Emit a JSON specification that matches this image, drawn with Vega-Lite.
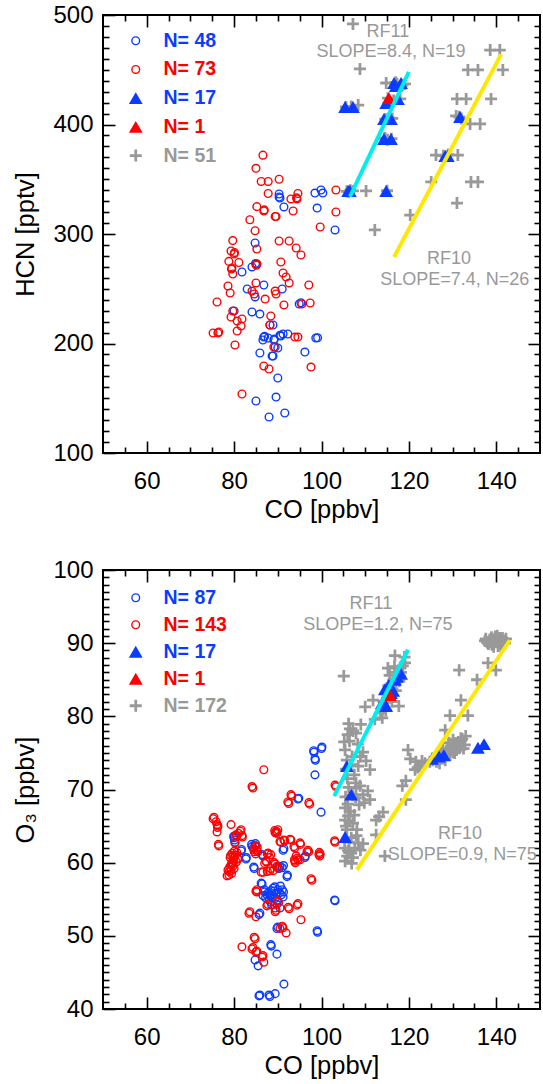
{
"$schema": "https://vega.github.io/schema/vega-lite/v6.json",
"background": "white",
"padding": {"left": 12, "top": 2, "right": 0, "bottom": 0},
"config": {
  "font": "Liberation Sans",
  "view": {"stroke": "black", "strokeWidth": 2},
  "concat": {"spacing": 33},
  "point": {"opacity": 1, "size": 190, "strokeWidth": 1.4},
  "axis": {"grid": false, "domain": false, "tickColor": "#000", "tickWidth": 1.6, "labelFont": "Liberation Sans", "labelFontSize": 24, "labelColor": "#000", "titleFont": "Liberation Sans", "titleFontSize": 25.5, "titleFontWeight": "normal", "titleColor": "#000", "labelFlush": false, "labelOverlap": false},
  "legend": {"orient": "none", "padding": 0, "symbolSize": 190, "symbolStrokeWidth": 1.4, "labelFont": "Liberation Sans", "labelFontSize": 19.5, "labelFontWeight": "bold", "labelOffset": 18}
},
"resolve": {"scale": {"fill": "independent", "stroke": "independent", "shape": "independent"}},
"datasets": {
  "hcn_gp": [{"co":107.2,"hcn":491.8},{"co":108.8,"hcn":450.7},{"co":114.8,"hcn":437.9},{"co":119.1,"hcn":437},{"co":108.4,"hcn":417.8},{"co":118,"hcn":423.3},{"co":114.5,"hcn":387.7},{"co":107.2,"hcn":339.3},{"co":110.2,"hcn":339.3},{"co":138.6,"hcn":468},{"co":140.8,"hcn":468},{"co":133.5,"hcn":449.8},{"co":135.8,"hcn":449.8},{"co":141.5,"hcn":449.8},{"co":131,"hcn":423.3},{"co":133.1,"hcn":423.3},{"co":138.8,"hcn":423.3},{"co":130.8,"hcn":407.8},{"co":134,"hcn":400.5},{"co":136.3,"hcn":400.5},{"co":126.2,"hcn":372.1},{"co":131.2,"hcn":372.1},{"co":125.1,"hcn":347.5},{"co":134.2,"hcn":347.5},{"co":135.8,"hcn":347.5},{"co":131,"hcn":328.3},{"co":120.3,"hcn":317.3},{"co":112.2,"hcn":303.7},{"co":105.6,"hcn":416},{"co":106.8,"hcn":416.5},{"co":115.2,"hcn":424},{"co":116,"hcn":419},{"co":114.6,"hcn":405},{"co":116.2,"hcn":405.5},{"co":114.5,"hcn":387},{"co":116,"hcn":387},{"co":117,"hcn":438.5},{"co":118.5,"hcn":436},{"co":105.8,"hcn":339},{"co":106.6,"hcn":340},{"co":115,"hcn":339.5},{"co":128.5,"hcn":371},{"co":129,"hcn":372.5},{"co":131.5,"hcn":407},{"co":132,"hcn":405.5},{"co":116.5,"hcn":422},{"co":115.5,"hcn":406},{"co":117.3,"hcn":437},{"co":106.2,"hcn":338.5},{"co":127.9,"hcn":371.5},{"co":115.1,"hcn":386}],
  "hcn_bc": [{"co":90.3,"hcn":336.5},{"co":90.5,"hcn":332.9},{"co":90.3,"hcn":333.8},{"co":91.4,"hcn":324.7},{"co":98.5,"hcn":337.4},{"co":99.9,"hcn":340.2},{"co":100.3,"hcn":337.4},{"co":99,"hcn":323.7},{"co":103.1,"hcn":303.7},{"co":84.8,"hcn":291.8},{"co":85.2,"hcn":272.6},{"co":84.1,"hcn":269.9},{"co":81.8,"hcn":265.3},{"co":86.8,"hcn":253.4},{"co":83,"hcn":249.8},{"co":84.8,"hcn":242.5},{"co":80,"hcn":229.7},{"co":84.1,"hcn":228.8},{"co":85.9,"hcn":226.9},{"co":91,"hcn":249.8},{"co":94.9,"hcn":236.1},{"co":88.2,"hcn":216.9},{"co":88.9,"hcn":216.9},{"co":86.8,"hcn":205.9},{"co":86.6,"hcn":203.2},{"co":87.8,"hcn":205},{"co":89.1,"hcn":203.2},{"co":90.7,"hcn":206.8},{"co":91.2,"hcn":208.7},{"co":92.3,"hcn":208.7},{"co":89.4,"hcn":196.8},{"co":90,"hcn":195.9},{"co":85.9,"hcn":191.3},{"co":88.7,"hcn":188.6},{"co":88.9,"hcn":188.6},{"co":96.2,"hcn":192.2},{"co":98.7,"hcn":205},{"co":90,"hcn":168.5},{"co":85,"hcn":147.5},{"co":89.6,"hcn":151.1},{"co":91.6,"hcn":136.5},{"co":88,"hcn":132.9},{"co":95.3,"hcn":237.2},{"co":87,"hcn":206.5},{"co":90.5,"hcn":207.5},{"co":89.2,"hcn":204},{"co":84.9,"hcn":273},{"co":99.1,"hcn":205.2}],
  "hcn_rc": [{"co":86.6,"hcn":372},{"co":85,"hcn":360},{"co":86.2,"hcn":348},{"co":87.8,"hcn":348},{"co":90.3,"hcn":350},{"co":87.8,"hcn":337},{"co":93,"hcn":332},{"co":94.4,"hcn":332},{"co":94.6,"hcn":337},{"co":85.2,"hcn":325},{"co":86.8,"hcn":321},{"co":89.4,"hcn":316},{"co":89.6,"hcn":316},{"co":93.5,"hcn":321},{"co":83.6,"hcn":313},{"co":84.8,"hcn":303},{"co":79.7,"hcn":294},{"co":79.3,"hcn":284.5},{"co":80,"hcn":281.7},{"co":78.8,"hcn":275},{"co":81.1,"hcn":274},{"co":79.5,"hcn":269},{"co":79.7,"hcn":263.5},{"co":85.2,"hcn":272.6},{"co":90.3,"hcn":293.6},{"co":92.6,"hcn":293.6},{"co":94.2,"hcn":287.2},{"co":95.3,"hcn":280.8},{"co":85.2,"hcn":286.3},{"co":90.7,"hcn":274.4},{"co":91.2,"hcn":264.4},{"co":91.9,"hcn":260.7},{"co":92.6,"hcn":255.3},{"co":85,"hcn":255.3},{"co":78.6,"hcn":252.5},{"co":79.1,"hcn":246.1},{"co":84.1,"hcn":247.9},{"co":84.6,"hcn":245.2},{"co":76.1,"hcn":237.9},{"co":87.1,"hcn":240.6},{"co":89.4,"hcn":247.9},{"co":89.6,"hcn":245.2},{"co":91.4,"hcn":235.2},{"co":95.5,"hcn":236.1},{"co":97.1,"hcn":253.4},{"co":97.4,"hcn":237},{"co":79.7,"hcn":229.7},{"co":79.3,"hcn":224.2},{"co":81.8,"hcn":222.4},{"co":80.7,"hcn":220.5},{"co":81.6,"hcn":216},{"co":80.7,"hcn":211.4},{"co":88.4,"hcn":225.1},{"co":88.2,"hcn":216.9},{"co":75.2,"hcn":209.6},{"co":76.3,"hcn":209.6},{"co":76.5,"hcn":210.5},{"co":80.2,"hcn":198.6},{"co":89.1,"hcn":196.8},{"co":93.9,"hcn":205.9},{"co":94.6,"hcn":205.9},{"co":86.8,"hcn":179.5},{"co":88,"hcn":176.7},{"co":97.6,"hcn":178.5},{"co":81.8,"hcn":153.9},{"co":103.3,"hcn":320.1},{"co":99.7,"hcn":306.4},{"co":103.3,"hcn":340.2},{"co":80.1,"hcn":283},{"co":79.4,"hcn":268},{"co":86.9,"hcn":322},{"co":85.1,"hcn":271.5},{"co":94.3,"hcn":333}],
  "hcn_bt": [{"co":105.4,"hcn":416},{"co":107.2,"hcn":416},{"co":116.6,"hcn":437.9},{"co":118.2,"hcn":437.9},{"co":117,"hcn":435.2},{"co":114.8,"hcn":419.6},{"co":117.5,"hcn":423.3},{"co":114.3,"hcn":405},{"co":115.9,"hcn":405},{"co":114.3,"hcn":386.8},{"co":115.9,"hcn":386.8},{"co":131.7,"hcn":406.8},{"co":128.3,"hcn":371.2},{"co":128.9,"hcn":371.2},{"co":106.1,"hcn":339.3},{"co":106.5,"hcn":339.3},{"co":114.8,"hcn":339.3}],
  "hcn_rt": [{"co":115.4,"hcn":424.2}],
  "hcn_fit11": [{"co":106.5,"hcn":334},{"co":120,"hcn":448}],
  "hcn_fit10": [{"co":116.6,"hcn":279},{"co":141.1,"hcn":464}],
  "hcn_txt": [{"co":115.2,"hcn":484.5,"label":"RF11"},{"co":115.9,"hcn":466.2,"label":"SLOPE=8.4, N=19"},{"co":129.2,"hcn":277.2,"label":"RF10"},{"co":130.5,"hcn":258,"label":"SLOPE=7.4, N=26"}],
  "o3_gp": [{"co":105.1,"o3":85.5},{"co":116.8,"o3":88.3},{"co":115.2,"o3":86.6},{"co":118,"o3":86.6},{"co":119.1,"o3":87.3},{"co":110,"o3":81.3},{"co":111.8,"o3":82.2},{"co":117.7,"o3":81.4},{"co":112.2,"o3":79.6},{"co":106.5,"o3":78.3},{"co":107.9,"o3":77.7},{"co":105.4,"o3":75.4},{"co":109.5,"o3":75.1},{"co":108.4,"o3":73.2},{"co":111.1,"o3":72.7},{"co":107.9,"o3":70.9},{"co":110.6,"o3":69.8},{"co":119.8,"o3":75.4},{"co":121.6,"o3":73.8},{"co":121.4,"o3":72.7},{"co":119.3,"o3":71.2},{"co":131.5,"o3":86.3},{"co":135.6,"o3":85},{"co":138.1,"o3":87.3},{"co":139.9,"o3":86.3},{"co":137.4,"o3":90.3},{"co":139.2,"o3":90.3},{"co":140.4,"o3":90.4},{"co":141.1,"o3":90.4},{"co":142,"o3":90},{"co":140.4,"o3":89.6},{"co":140.8,"o3":90.7},{"co":131.9,"o3":82.2},{"co":129.4,"o3":80.1},{"co":133.5,"o3":80.1},{"co":128.3,"o3":78.1},{"co":130.1,"o3":76.8},{"co":131.9,"o3":77},{"co":127.8,"o3":75.4},{"co":130.1,"o3":75.1},{"co":126.7,"o3":74.6},{"co":125.5,"o3":74},{"co":123.7,"o3":73.6},{"co":122.5,"o3":73.2},{"co":130.5,"o3":75},{"co":132.8,"o3":76.1},{"co":129.4,"o3":74.7},{"co":107.9,"o3":70.2},{"co":109.5,"o3":69.3},{"co":111.1,"o3":68.6},{"co":108.6,"o3":67.9},{"co":105.4,"o3":67.5},{"co":106.1,"o3":66.4},{"co":105.4,"o3":65.8},{"co":107.2,"o3":65.4},{"co":112.5,"o3":65.8},{"co":114.1,"o3":66.9},{"co":119.3,"o3":68.6},{"co":112.5,"o3":63.8},{"co":106.8,"o3":63.4},{"co":108.4,"o3":62.7},{"co":109.5,"o3":62.6},{"co":106.1,"o3":61.6},{"co":107.2,"o3":60.7},{"co":105.4,"o3":60.2},{"co":114.5,"o3":60.9},{"co":105.6,"o3":65},{"co":114,"o3":81},{"co":114.9,"o3":81.9},{"co":115.5,"o3":83},{"co":116.2,"o3":83.8},{"co":116.9,"o3":84.6},{"co":117.5,"o3":85.3},{"co":118.2,"o3":86},{"co":115,"o3":82.5},{"co":116,"o3":84.5},{"co":117.2,"o3":86},{"co":113.5,"o3":80.5},{"co":114.2,"o3":82},{"co":115.8,"o3":83.2},{"co":116.5,"o3":85},{"co":117.8,"o3":84.8},{"co":118.6,"o3":86.9},{"co":116.1,"o3":82},{"co":114.7,"o3":80.8},{"co":117,"o3":83.5},{"co":118,"o3":85.5},{"co":115.3,"o3":84.2},{"co":116.7,"o3":86.8},{"co":119,"o3":88.1},{"co":113.9,"o3":79.8},{"co":115.6,"o3":85.6},{"co":137.9,"o3":90.1},{"co":138.5,"o3":90.5},{"co":139,"o3":89.8},{"co":139.6,"o3":90.6},{"co":140,"o3":90.2},{"co":140.6,"o3":90},{"co":141.4,"o3":90.7},{"co":141.8,"o3":90.3},{"co":140.2,"o3":91},{"co":139.4,"o3":89.5},{"co":138.2,"o3":89.9},{"co":141,"o3":89.6},{"co":140.9,"o3":90.4},{"co":139.8,"o3":90.9},{"co":142.2,"o3":90.6},{"co":137.6,"o3":90.6},{"co":138.9,"o3":90.8},{"co":141.5,"o3":89.9},{"co":140.5,"o3":90.6},{"co":139.1,"o3":90.2},{"co":126,"o3":74.3},{"co":126.5,"o3":74.9},{"co":127.2,"o3":74.2},{"co":127.5,"o3":75},{"co":128,"o3":74.6},{"co":128.6,"o3":75.3},{"co":129,"o3":75.6},{"co":129.8,"o3":76},{"co":130.6,"o3":76.3},{"co":131.3,"o3":76.5},{"co":131.7,"o3":75.8},{"co":132.2,"o3":76.9},{"co":133,"o3":77.3},{"co":126.3,"o3":73.8},{"co":124.8,"o3":73.8},{"co":128.3,"o3":74},{"co":129.2,"o3":76.4},{"co":127,"o3":73.6},{"co":130.9,"o3":75.4},{"co":132.5,"o3":75.6},{"co":106,"o3":68},{"co":106.6,"o3":67},{"co":107.5,"o3":66.5},{"co":105.8,"o3":64.5},{"co":106.3,"o3":62.8},{"co":107.6,"o3":62},{"co":106.8,"o3":61.3},{"co":105.9,"o3":60.9},{"co":108,"o3":63.7},{"co":107.1,"o3":69.2},{"co":108.8,"o3":70.5},{"co":109.8,"o3":68.2},{"co":105.5,"o3":69},{"co":106.2,"o3":70.3},{"co":108.1,"o3":64.5},{"co":106.9,"o3":59.9},{"co":105.3,"o3":62},{"co":107.8,"o3":68.9},{"co":106.4,"o3":65.7},{"co":108.9,"o3":61.7},{"co":106,"o3":77.5},{"co":107.2,"o3":78},{"co":106.4,"o3":76.6},{"co":105.8,"o3":74},{"co":106.8,"o3":73.4},{"co":107.5,"o3":72},{"co":105.6,"o3":72.8},{"co":108.9,"o3":74.5},{"co":110.2,"o3":73.9},{"co":109,"o3":78.9},{"co":105.2,"o3":76.5},{"co":106.2,"o3":79},{"co":108.3,"o3":76.2},{"co":105.9,"o3":71.5},{"co":107,"o3":74.5},{"co":120.3,"o3":74.2},{"co":122,"o3":73},{"co":113.2,"o3":66.3},{"co":118.5,"o3":70.5},{"co":123,"o3":73.9}],
  "o3_bc": [{"co":94.6,"o3":68.7},{"co":99.9,"o3":66.9},{"co":80,"o3":63.4},{"co":80.2,"o3":62.8},{"co":81.6,"o3":61.6},{"co":82.7,"o3":60.5},{"co":84.1,"o3":62.2},{"co":84.8,"o3":62.3},{"co":86.6,"o3":60.9},{"co":91.2,"o3":61.7},{"co":96.2,"o3":60.7},{"co":84.6,"o3":59.2},{"co":90,"o3":59.4},{"co":91,"o3":59.3},{"co":92.1,"o3":58.1},{"co":86.4,"o3":57.1},{"co":86.6,"o3":55.5},{"co":87.5,"o3":55.6},{"co":88.2,"o3":55.6},{"co":89.1,"o3":56.1},{"co":90,"o3":56.3},{"co":91,"o3":56.3},{"co":88.7,"o3":55.3},{"co":89.4,"o3":55.1},{"co":91.2,"o3":55.3},{"co":88.4,"o3":54.6},{"co":90.5,"o3":53.8},{"co":85.7,"o3":52.9},{"co":103.1,"o3":54.8},{"co":89.8,"o3":51},{"co":99,"o3":50.7},{"co":84.8,"o3":46.7},{"co":85.5,"o3":45.9},{"co":88.4,"o3":48.8},{"co":89.8,"o3":47.5},{"co":91.4,"o3":43.4},{"co":85.7,"o3":41.8},{"co":88,"o3":41.9},{"co":89.4,"o3":42.1},{"co":98.3,"o3":75.1},{"co":98.5,"o3":74.2},{"co":98.5,"o3":72},{"co":100.1,"o3":75.8},{"co":86.2,"o3":57.2},{"co":87,"o3":56},{"co":87.8,"o3":55.9},{"co":88.5,"o3":56.2},{"co":89.6,"o3":55.8},{"co":90.4,"o3":55.9},{"co":90.8,"o3":55.6},{"co":88.9,"o3":56.5},{"co":87.2,"o3":55.2},{"co":89.9,"o3":54.9},{"co":88,"o3":54.9},{"co":86.9,"o3":56.3},{"co":90.6,"o3":56.8},{"co":89.3,"o3":56.7},{"co":91.3,"o3":56},{"co":88.3,"o3":55.5},{"co":84.4,"o3":62},{"co":84.9,"o3":62.6},{"co":84,"o3":62.5},{"co":80.1,"o3":63.1},{"co":79.9,"o3":63.6},{"co":90.5,"o3":59.5},{"co":90.3,"o3":59.2},{"co":91.3,"o3":59.6},{"co":91.4,"o3":61.9},{"co":85.9,"o3":53.1},{"co":88.6,"o3":54.2},{"co":89.8,"o3":54.3},{"co":90,"o3":51.2},{"co":88.2,"o3":41.7},{"co":85.9,"o3":41.9},{"co":98.6,"o3":74},{"co":98.2,"o3":75.3},{"co":100,"o3":75.6},{"co":84.5,"o3":59.4},{"co":86.4,"o3":61.1},{"co":81.7,"o3":61.8},{"co":82.8,"o3":60.7},{"co":94.8,"o3":68.8},{"co":96.3,"o3":60.9},{"co":103,"o3":54.9},{"co":99.1,"o3":50.5},{"co":88.5,"o3":48.6},{"co":92.2,"o3":58.3}],
  "o3_rc": [{"co":84.1,"o3":70.4},{"co":93.2,"o3":69.1},{"co":92.3,"o3":68.3},{"co":97.1,"o3":68.2},{"co":103.1,"o3":70.6},{"co":86.8,"o3":72.7},{"co":75.2,"o3":66},{"co":76.3,"o3":65},{"co":76.1,"o3":64.2},{"co":79.3,"o3":65.2},{"co":81.4,"o3":64.3},{"co":81.8,"o3":63.7},{"co":80.4,"o3":63.8},{"co":76.5,"o3":62.3},{"co":89.6,"o3":64.3},{"co":90,"o3":64.5},{"co":89.4,"o3":64.1},{"co":91.4,"o3":63.1},{"co":93,"o3":63.1},{"co":90.7,"o3":62.8},{"co":95.1,"o3":62.7},{"co":93.9,"o3":62},{"co":85,"o3":62.3},{"co":85.2,"o3":61.7},{"co":84.6,"o3":61.5},{"co":96.9,"o3":61.7},{"co":99.7,"o3":61.2},{"co":103.1,"o3":62.8},{"co":79.7,"o3":60.9},{"co":79.1,"o3":60.7},{"co":80.9,"o3":60.5},{"co":79.5,"o3":60},{"co":79.3,"o3":59.7},{"co":80,"o3":59.2},{"co":79.3,"o3":58.9},{"co":78.8,"o3":58.3},{"co":78.4,"o3":58.2},{"co":87.8,"o3":61.3},{"co":88.4,"o3":61.1},{"co":87.3,"o3":60.2},{"co":89.4,"o3":59.8},{"co":88.2,"o3":58.9},{"co":86.2,"o3":58.7},{"co":86.6,"o3":58.7},{"co":88.9,"o3":58.9},{"co":90,"o3":59.3},{"co":93.9,"o3":60.2},{"co":94.6,"o3":60.4},{"co":94.2,"o3":60.9},{"co":97.6,"o3":57.8},{"co":85,"o3":56.1},{"co":90,"o3":54.8},{"co":87.5,"o3":54.1},{"co":89.4,"o3":53.8},{"co":92.6,"o3":53.7},{"co":94.6,"o3":54.4},{"co":83.4,"o3":53.1},{"co":85,"o3":52.6},{"co":89.4,"o3":53.3},{"co":95.3,"o3":52.2},{"co":91.2,"o3":51.1},{"co":90.5,"o3":51},{"co":91.9,"o3":50.4},{"co":84.8,"o3":49.6},{"co":81.8,"o3":48.5},{"co":84.1,"o3":48.2},{"co":85,"o3":47.8},{"co":86.4,"o3":47.1},{"co":86.8,"o3":46.4},{"co":80.2,"o3":62.7},{"co":89.8,"o3":64.2},{"co":95.1,"o3":60.4},{"co":99.4,"o3":61.1},{"co":79.6,"o3":61.3},{"co":80.1,"o3":61.6},{"co":79.9,"o3":60.3},{"co":80.5,"o3":60.1},{"co":79,"o3":59.4},{"co":79.8,"o3":59.9},{"co":80.3,"o3":61},{"co":78.9,"o3":58.8},{"co":79.4,"o3":58.5},{"co":80.6,"o3":61.4},{"co":79.2,"o3":61},{"co":80,"o3":60.7},{"co":80.8,"o3":60.6},{"co":78.6,"o3":59},{"co":79.7,"o3":59.5},{"co":76.2,"o3":64.8},{"co":75.9,"o3":65.6},{"co":76.4,"o3":62.5},{"co":81,"o3":64},{"co":80.6,"o3":63.6},{"co":81.6,"o3":64.5},{"co":81.9,"o3":63.5},{"co":85.3,"o3":62.1},{"co":84.9,"o3":61.2},{"co":85.4,"o3":61.5},{"co":84.5,"o3":61.8},{"co":87.6,"o3":61.2},{"co":88.1,"o3":60.7},{"co":87,"o3":59.9},{"co":87.6,"o3":58.8},{"co":89.2,"o3":60},{"co":88.4,"o3":59.2},{"co":87.4,"o3":60.1},{"co":89.8,"o3":59.5},{"co":89.8,"o3":64},{"co":91.6,"o3":63},{"co":92.8,"o3":63.2},{"co":89.3,"o3":64.4},{"co":90.5,"o3":62.9},{"co":93.7,"o3":62.2},{"co":94.4,"o3":60.6},{"co":95.2,"o3":62.5},{"co":96.7,"o3":61.5},{"co":93.8,"o3":60.4},{"co":94,"o3":60},{"co":85.2,"o3":56.3},{"co":90.2,"o3":54.6},{"co":91,"o3":51.3},{"co":92.4,"o3":53.9},{"co":89.6,"o3":53.5},{"co":87.7,"o3":54.3},{"co":94.4,"o3":54.2},{"co":84.6,"o3":49.8},{"co":85.2,"o3":47.9},{"co":86.6,"o3":47.3},{"co":84.3,"o3":48.4},{"co":93,"o3":69.3},{"co":92.5,"o3":68.1},{"co":97.3,"o3":68},{"co":103.3,"o3":70.4},{"co":84.3,"o3":70.2},{"co":97.8,"o3":57.6},{"co":99.5,"o3":61.4},{"co":103,"o3":63},{"co":99.6,"o3":60.9},{"co":97.1,"o3":61.5},{"co":75.4,"o3":66.2},{"co":76.1,"o3":65.2},{"co":85.2,"o3":56},{"co":83.6,"o3":53.3}],
  "o3_bt": [{"co":118.2,"o3":85.8},{"co":116.8,"o3":85},{"co":115.4,"o3":84.3},{"co":114.5,"o3":83.7},{"co":115.9,"o3":83.2},{"co":113.8,"o3":81.8},{"co":114.8,"o3":81.4},{"co":117.3,"o3":85.4},{"co":116.4,"o3":83.5},{"co":105.8,"o3":73.2},{"co":106.8,"o3":69.3},{"co":105.4,"o3":63.5},{"co":125.3,"o3":74.2},{"co":126.9,"o3":74.5},{"co":128,"o3":74.7},{"co":135.8,"o3":75.7},{"co":137.2,"o3":76.2}],
  "o3_rt": [{"co":115.7,"o3":82.9}],
  "o3_fit11": [{"co":102.9,"o3":69.1},{"co":119.8,"o3":89.1}],
  "o3_fit10": [{"co":108.1,"o3":59},{"co":143.1,"o3":90.4}],
  "o3_txt": [{"co":111.3,"o3":95.4,"label":"RF11"},{"co":112.9,"o3":92.5,"label":"SLOPE=1.2, N=75"},{"co":131.7,"o3":63.9,"label":"RF10"},{"co":132.2,"o3":61.1,"label":"SLOPE=0.9, N=75"}]
},
"vconcat": [
{
  "width": 437, "height": 438,
  "resolve": {"axis": {"x": "independent", "y": "independent"}},
  "layer": [
    {
      "data": {"name": "hcn_gp"},
      "mark": {"type": "point"},
      "encoding": {
        "x": {"field": "co", "type": "quantitative", "scale": {"domain": [50, 150], "nice": false, "zero": false}, "axis": {"orient": "bottom", "values": [60, 80, 100, 120, 140], "tickSize": -12, "labelPadding": 28, "title": "CO [ppbv]", "titlePadding": 4}},
        "y": {"field": "hcn", "type": "quantitative", "scale": {"domain": [100, 500], "nice": false, "zero": false}, "axis": {"orient": "left", "values": [100, 200, 300, 400, 500], "tickSize": -12, "labelPadding": 22, "title": "HCN [pptv]", "titlePadding": 14}},
        "shape": {"datum": "N= 51", "type": "nominal", "scale": {"domain": ["N= 48", "N= 73", "N= 17", "N= 1", "N= 51"], "range": ["M0.56,0A0.56,0.56,0,1,1,-0.56,0A0.56,0.56,0,1,1,0.56,0Z", "M0.56,0A0.56,0.56,0,1,1,-0.56,0A0.56,0.56,0,1,1,0.56,0Z", "triangle-up", "triangle-up", "M-0.87,-0.2H-0.2V-0.87H0.2V-0.2H0.87V0.2H0.2V0.87H-0.2V0.2H-0.87Z"]},
          "legend": {"orient": "none", "legendX": 23, "legendY": 16, "rowPadding": 7.7, "labelColor": {"expr": "datum.value === 'N= 48' || datum.value === 'N= 17' ? '#0a3cff' : datum.value === 'N= 51' ? '#999999' : '#ff0000'"}}},
        "fill": {"datum": "N= 51", "type": "nominal", "scale": {"domain": ["N= 48", "N= 73", "N= 17", "N= 1", "N= 51"], "range": ["transparent", "transparent", "#0a3cff", "#ff0000", "#999999"]}},
        "stroke": {"datum": "N= 51", "type": "nominal", "scale": {"domain": ["N= 48", "N= 73", "N= 17", "N= 1", "N= 51"], "range": ["#0a3cff", "#ff0000", "transparent", "transparent", "transparent"]}}
      }
    },
    {
      "data": {"name": "hcn_bc"},
      "mark": {"type": "point"},
      "encoding": {
        "x": {"field": "co", "type": "quantitative", "scale": {"domain": [50, 150], "nice": false, "zero": false}, "axis": {"orient": "bottom", "values": [55, 65, 70, 75, 85, 90, 95, 105, 110, 115, 125, 130, 135, 145], "tickSize": -6, "labels": false, "title": null}},
        "y": {"field": "hcn", "type": "quantitative", "scale": {"domain": [100, 500], "nice": false, "zero": false}, "axis": {"orient": "left", "values": [110,120,130,140,150,160,170,180,190,210,220,230,240,250,260,270,280,290,310,320,330,340,350,360,370,380,390,410,420,430,440,450,460,470,480,490], "tickSize": -6, "labels": false, "title": null}},
        "shape": {"datum": "N= 48", "type": "nominal", "scale": {"domain": ["N= 48", "N= 73", "N= 17", "N= 1", "N= 51"], "range": ["M0.56,0A0.56,0.56,0,1,1,-0.56,0A0.56,0.56,0,1,1,0.56,0Z", "M0.56,0A0.56,0.56,0,1,1,-0.56,0A0.56,0.56,0,1,1,0.56,0Z", "triangle-up", "triangle-up", "M-0.87,-0.2H-0.2V-0.87H0.2V-0.2H0.87V0.2H0.2V0.87H-0.2V0.2H-0.87Z"]}},
        "fill": {"datum": "N= 48", "type": "nominal", "scale": {"domain": ["N= 48", "N= 73", "N= 17", "N= 1", "N= 51"], "range": ["transparent", "transparent", "#0a3cff", "#ff0000", "#999999"]}},
        "stroke": {"datum": "N= 48", "type": "nominal", "scale": {"domain": ["N= 48", "N= 73", "N= 17", "N= 1", "N= 51"], "range": ["#0a3cff", "#ff0000", "transparent", "transparent", "transparent"]}}
      }
    },
    {
      "data": {"name": "hcn_rc"},
      "mark": {"type": "point"},
      "encoding": {
        "x": {"field": "co", "type": "quantitative", "scale": {"domain": [50, 150], "nice": false, "zero": false}, "axis": {"orient": "top", "values": [60, 80, 100, 120, 140], "tickSize": -12, "labels": false, "title": null}},
        "y": {"field": "hcn", "type": "quantitative", "scale": {"domain": [100, 500], "nice": false, "zero": false}, "axis": {"orient": "right", "values": [200, 300, 400], "tickSize": -12, "labels": false, "title": null}},
        "shape": {"datum": "N= 73", "type": "nominal", "scale": {"domain": ["N= 48", "N= 73", "N= 17", "N= 1", "N= 51"], "range": ["M0.56,0A0.56,0.56,0,1,1,-0.56,0A0.56,0.56,0,1,1,0.56,0Z", "M0.56,0A0.56,0.56,0,1,1,-0.56,0A0.56,0.56,0,1,1,0.56,0Z", "triangle-up", "triangle-up", "M-0.87,-0.2H-0.2V-0.87H0.2V-0.2H0.87V0.2H0.2V0.87H-0.2V0.2H-0.87Z"]}},
        "fill": {"datum": "N= 73", "type": "nominal", "scale": {"domain": ["N= 48", "N= 73", "N= 17", "N= 1", "N= 51"], "range": ["transparent", "transparent", "#0a3cff", "#ff0000", "#999999"]}},
        "stroke": {"datum": "N= 73", "type": "nominal", "scale": {"domain": ["N= 48", "N= 73", "N= 17", "N= 1", "N= 51"], "range": ["#0a3cff", "#ff0000", "transparent", "transparent", "transparent"]}}
      }
    },
    {
      "data": {"name": "hcn_bt"},
      "mark": {"type": "point"},
      "encoding": {
        "x": {"field": "co", "type": "quantitative", "scale": {"domain": [50, 150], "nice": false, "zero": false}, "axis": {"orient": "top", "values": [55, 65, 70, 75, 85, 90, 95, 105, 110, 115, 125, 130, 135, 145], "tickSize": -6, "labels": false, "title": null}},
        "y": {"field": "hcn", "type": "quantitative", "scale": {"domain": [100, 500], "nice": false, "zero": false}, "axis": {"orient": "right", "values": [110,120,130,140,150,160,170,180,190,210,220,230,240,250,260,270,280,290,310,320,330,340,350,360,370,380,390,410,420,430,440,450,460,470,480,490], "tickSize": -6, "labels": false, "title": null}},
        "shape": {"datum": "N= 17", "type": "nominal", "scale": {"domain": ["N= 48", "N= 73", "N= 17", "N= 1", "N= 51"], "range": ["M0.56,0A0.56,0.56,0,1,1,-0.56,0A0.56,0.56,0,1,1,0.56,0Z", "M0.56,0A0.56,0.56,0,1,1,-0.56,0A0.56,0.56,0,1,1,0.56,0Z", "triangle-up", "triangle-up", "M-0.87,-0.2H-0.2V-0.87H0.2V-0.2H0.87V0.2H0.2V0.87H-0.2V0.2H-0.87Z"]}},
        "fill": {"datum": "N= 17", "type": "nominal", "scale": {"domain": ["N= 48", "N= 73", "N= 17", "N= 1", "N= 51"], "range": ["transparent", "transparent", "#0a3cff", "#ff0000", "#999999"]}},
        "stroke": {"datum": "N= 17", "type": "nominal", "scale": {"domain": ["N= 48", "N= 73", "N= 17", "N= 1", "N= 51"], "range": ["#0a3cff", "#ff0000", "transparent", "transparent", "transparent"]}}
      }
    },
    {
      "data": {"name": "hcn_rt"},
      "mark": {"type": "point"},
      "encoding": {
        "x": {"field": "co", "type": "quantitative", "scale": {"domain": [50, 150], "nice": false, "zero": false}, "axis": null},
        "y": {"field": "hcn", "type": "quantitative", "scale": {"domain": [100, 500], "nice": false, "zero": false}, "axis": null},
        "shape": {"datum": "N= 1", "type": "nominal", "scale": {"domain": ["N= 48", "N= 73", "N= 17", "N= 1", "N= 51"], "range": ["M0.56,0A0.56,0.56,0,1,1,-0.56,0A0.56,0.56,0,1,1,0.56,0Z", "M0.56,0A0.56,0.56,0,1,1,-0.56,0A0.56,0.56,0,1,1,0.56,0Z", "triangle-up", "triangle-up", "M-0.87,-0.2H-0.2V-0.87H0.2V-0.2H0.87V0.2H0.2V0.87H-0.2V0.2H-0.87Z"]}},
        "fill": {"datum": "N= 1", "type": "nominal", "scale": {"domain": ["N= 48", "N= 73", "N= 17", "N= 1", "N= 51"], "range": ["transparent", "transparent", "#0a3cff", "#ff0000", "#999999"]}},
        "stroke": {"datum": "N= 1", "type": "nominal", "scale": {"domain": ["N= 48", "N= 73", "N= 17", "N= 1", "N= 51"], "range": ["#0a3cff", "#ff0000", "transparent", "transparent", "transparent"]}}
      }
    },
    {
      "data": {"name": "hcn_fit11"},
      "mark": {"type": "line", "color": "#00eeee", "strokeWidth": 4},
      "encoding": {
        "x": {"field": "co", "type": "quantitative", "axis": null},
        "y": {"field": "hcn", "type": "quantitative", "axis": null}
      }
    },
    {
      "data": {"name": "hcn_fit10"},
      "mark": {"type": "line", "color": "#ffe800", "strokeWidth": 4},
      "encoding": {
        "x": {"field": "co", "type": "quantitative", "axis": null},
        "y": {"field": "hcn", "type": "quantitative", "axis": null}
      }
    },
    {
      "data": {"name": "hcn_txt"},
      "mark": {"type": "text", "font": "Liberation Sans", "fontSize": 18, "color": "#999999", "align": "center", "baseline": "middle"},
      "encoding": {
        "x": {"field": "co", "type": "quantitative", "axis": null},
        "y": {"field": "hcn", "type": "quantitative", "axis": null},
        "text": {"field": "label"}
      }
    }
  ]
},
{
  "width": 437, "height": 439,
  "resolve": {"axis": {"x": "independent", "y": "independent"}},
  "layer": [
    {
      "data": {"name": "o3_gp"},
      "mark": {"type": "point"},
      "encoding": {
        "x": {"field": "co", "type": "quantitative", "scale": {"domain": [50, 150], "nice": false, "zero": false}, "axis": {"orient": "bottom", "values": [60, 80, 100, 120, 140], "tickSize": -12, "labelPadding": 28, "title": "CO [ppbv]", "titlePadding": 4}},
        "y": {"field": "o3", "type": "quantitative", "scale": {"domain": [40, 100], "nice": false, "zero": false}, "axis": {"orient": "left", "values": [40, 50, 60, 70, 80, 90, 100], "tickSize": -12, "labelPadding": 22, "title": "O₃ [ppbv]", "titlePadding": 14}},
        "shape": {"datum": "N= 172", "type": "nominal", "scale": {"domain": ["N= 87", "N= 143", "N= 17", "N= 1", "N= 172"], "range": ["M0.56,0A0.56,0.56,0,1,1,-0.56,0A0.56,0.56,0,1,1,0.56,0Z", "M0.56,0A0.56,0.56,0,1,1,-0.56,0A0.56,0.56,0,1,1,0.56,0Z", "triangle-up", "triangle-up", "M-0.87,-0.2H-0.2V-0.87H0.2V-0.2H0.87V0.2H0.2V0.87H-0.2V0.2H-0.87Z"]},
          "legend": {"orient": "none", "legendX": 23, "legendY": 18, "rowPadding": 6, "labelColor": {"expr": "datum.value === 'N= 87' || datum.value === 'N= 17' ? '#0a3cff' : datum.value === 'N= 172' ? '#999999' : '#ff0000'"}}},
        "fill": {"datum": "N= 172", "type": "nominal", "scale": {"domain": ["N= 87", "N= 143", "N= 17", "N= 1", "N= 172"], "range": ["transparent", "transparent", "#0a3cff", "#ff0000", "#999999"]}},
        "stroke": {"datum": "N= 172", "type": "nominal", "scale": {"domain": ["N= 87", "N= 143", "N= 17", "N= 1", "N= 172"], "range": ["#0a3cff", "#ff0000", "transparent", "transparent", "transparent"]}}
      }
    },
    {
      "data": {"name": "o3_bc"},
      "mark": {"type": "point"},
      "encoding": {
        "x": {"field": "co", "type": "quantitative", "scale": {"domain": [50, 150], "nice": false, "zero": false}, "axis": {"orient": "bottom", "values": [55, 65, 70, 75, 85, 90, 95, 105, 110, 115, 125, 130, 135, 145], "tickSize": -6, "labels": false, "title": null}},
        "y": {"field": "o3", "type": "quantitative", "scale": {"domain": [40, 100], "nice": false, "zero": false}, "axis": {"orient": "left", "values": [41,42,43,44,45,46,47,48,49,51,52,53,54,55,56,57,58,59,61,62,63,64,65,66,67,68,69,71,72,73,74,75,76,77,78,79,81,82,83,84,85,86,87,88,89,91,92,93,94,95,96,97,98,99], "tickSize": -6, "labels": false, "title": null}},
        "shape": {"datum": "N= 87", "type": "nominal", "scale": {"domain": ["N= 87", "N= 143", "N= 17", "N= 1", "N= 172"], "range": ["M0.56,0A0.56,0.56,0,1,1,-0.56,0A0.56,0.56,0,1,1,0.56,0Z", "M0.56,0A0.56,0.56,0,1,1,-0.56,0A0.56,0.56,0,1,1,0.56,0Z", "triangle-up", "triangle-up", "M-0.87,-0.2H-0.2V-0.87H0.2V-0.2H0.87V0.2H0.2V0.87H-0.2V0.2H-0.87Z"]}},
        "fill": {"datum": "N= 87", "type": "nominal", "scale": {"domain": ["N= 87", "N= 143", "N= 17", "N= 1", "N= 172"], "range": ["transparent", "transparent", "#0a3cff", "#ff0000", "#999999"]}},
        "stroke": {"datum": "N= 87", "type": "nominal", "scale": {"domain": ["N= 87", "N= 143", "N= 17", "N= 1", "N= 172"], "range": ["#0a3cff", "#ff0000", "transparent", "transparent", "transparent"]}}
      }
    },
    {
      "data": {"name": "o3_rc"},
      "mark": {"type": "point"},
      "encoding": {
        "x": {"field": "co", "type": "quantitative", "scale": {"domain": [50, 150], "nice": false, "zero": false}, "axis": {"orient": "top", "values": [60, 80, 100, 120, 140], "tickSize": -12, "labels": false, "title": null}},
        "y": {"field": "o3", "type": "quantitative", "scale": {"domain": [40, 100], "nice": false, "zero": false}, "axis": {"orient": "right", "values": [50, 60, 70, 80, 90], "tickSize": -12, "labels": false, "title": null}},
        "shape": {"datum": "N= 143", "type": "nominal", "scale": {"domain": ["N= 87", "N= 143", "N= 17", "N= 1", "N= 172"], "range": ["M0.56,0A0.56,0.56,0,1,1,-0.56,0A0.56,0.56,0,1,1,0.56,0Z", "M0.56,0A0.56,0.56,0,1,1,-0.56,0A0.56,0.56,0,1,1,0.56,0Z", "triangle-up", "triangle-up", "M-0.87,-0.2H-0.2V-0.87H0.2V-0.2H0.87V0.2H0.2V0.87H-0.2V0.2H-0.87Z"]}},
        "fill": {"datum": "N= 143", "type": "nominal", "scale": {"domain": ["N= 87", "N= 143", "N= 17", "N= 1", "N= 172"], "range": ["transparent", "transparent", "#0a3cff", "#ff0000", "#999999"]}},
        "stroke": {"datum": "N= 143", "type": "nominal", "scale": {"domain": ["N= 87", "N= 143", "N= 17", "N= 1", "N= 172"], "range": ["#0a3cff", "#ff0000", "transparent", "transparent", "transparent"]}}
      }
    },
    {
      "data": {"name": "o3_bt"},
      "mark": {"type": "point"},
      "encoding": {
        "x": {"field": "co", "type": "quantitative", "scale": {"domain": [50, 150], "nice": false, "zero": false}, "axis": {"orient": "top", "values": [55, 65, 70, 75, 85, 90, 95, 105, 110, 115, 125, 130, 135, 145], "tickSize": -6, "labels": false, "title": null}},
        "y": {"field": "o3", "type": "quantitative", "scale": {"domain": [40, 100], "nice": false, "zero": false}, "axis": {"orient": "right", "values": [41,42,43,44,45,46,47,48,49,51,52,53,54,55,56,57,58,59,61,62,63,64,65,66,67,68,69,71,72,73,74,75,76,77,78,79,81,82,83,84,85,86,87,88,89,91,92,93,94,95,96,97,98,99], "tickSize": -6, "labels": false, "title": null}},
        "shape": {"datum": "N= 17", "type": "nominal", "scale": {"domain": ["N= 87", "N= 143", "N= 17", "N= 1", "N= 172"], "range": ["M0.56,0A0.56,0.56,0,1,1,-0.56,0A0.56,0.56,0,1,1,0.56,0Z", "M0.56,0A0.56,0.56,0,1,1,-0.56,0A0.56,0.56,0,1,1,0.56,0Z", "triangle-up", "triangle-up", "M-0.87,-0.2H-0.2V-0.87H0.2V-0.2H0.87V0.2H0.2V0.87H-0.2V0.2H-0.87Z"]}},
        "fill": {"datum": "N= 17", "type": "nominal", "scale": {"domain": ["N= 87", "N= 143", "N= 17", "N= 1", "N= 172"], "range": ["transparent", "transparent", "#0a3cff", "#ff0000", "#999999"]}},
        "stroke": {"datum": "N= 17", "type": "nominal", "scale": {"domain": ["N= 87", "N= 143", "N= 17", "N= 1", "N= 172"], "range": ["#0a3cff", "#ff0000", "transparent", "transparent", "transparent"]}}
      }
    },
    {
      "data": {"name": "o3_rt"},
      "mark": {"type": "point"},
      "encoding": {
        "x": {"field": "co", "type": "quantitative", "scale": {"domain": [50, 150], "nice": false, "zero": false}, "axis": null},
        "y": {"field": "o3", "type": "quantitative", "scale": {"domain": [40, 100], "nice": false, "zero": false}, "axis": null},
        "shape": {"datum": "N= 1", "type": "nominal", "scale": {"domain": ["N= 87", "N= 143", "N= 17", "N= 1", "N= 172"], "range": ["M0.56,0A0.56,0.56,0,1,1,-0.56,0A0.56,0.56,0,1,1,0.56,0Z", "M0.56,0A0.56,0.56,0,1,1,-0.56,0A0.56,0.56,0,1,1,0.56,0Z", "triangle-up", "triangle-up", "M-0.87,-0.2H-0.2V-0.87H0.2V-0.2H0.87V0.2H0.2V0.87H-0.2V0.2H-0.87Z"]}},
        "fill": {"datum": "N= 1", "type": "nominal", "scale": {"domain": ["N= 87", "N= 143", "N= 17", "N= 1", "N= 172"], "range": ["transparent", "transparent", "#0a3cff", "#ff0000", "#999999"]}},
        "stroke": {"datum": "N= 1", "type": "nominal", "scale": {"domain": ["N= 87", "N= 143", "N= 17", "N= 1", "N= 172"], "range": ["#0a3cff", "#ff0000", "transparent", "transparent", "transparent"]}}
      }
    },
    {
      "data": {"name": "o3_fit11"},
      "mark": {"type": "line", "color": "#00eeee", "strokeWidth": 4},
      "encoding": {
        "x": {"field": "co", "type": "quantitative", "axis": null},
        "y": {"field": "o3", "type": "quantitative", "axis": null}
      }
    },
    {
      "data": {"name": "o3_fit10"},
      "mark": {"type": "line", "color": "#ffe800", "strokeWidth": 4},
      "encoding": {
        "x": {"field": "co", "type": "quantitative", "axis": null},
        "y": {"field": "o3", "type": "quantitative", "axis": null}
      }
    },
    {
      "data": {"name": "o3_txt"},
      "mark": {"type": "text", "font": "Liberation Sans", "fontSize": 18, "color": "#999999", "align": "center", "baseline": "middle"},
      "encoding": {
        "x": {"field": "co", "type": "quantitative", "axis": null},
        "y": {"field": "o3", "type": "quantitative", "axis": null},
        "text": {"field": "label"}
      }
    }
  ]
}
]
}
